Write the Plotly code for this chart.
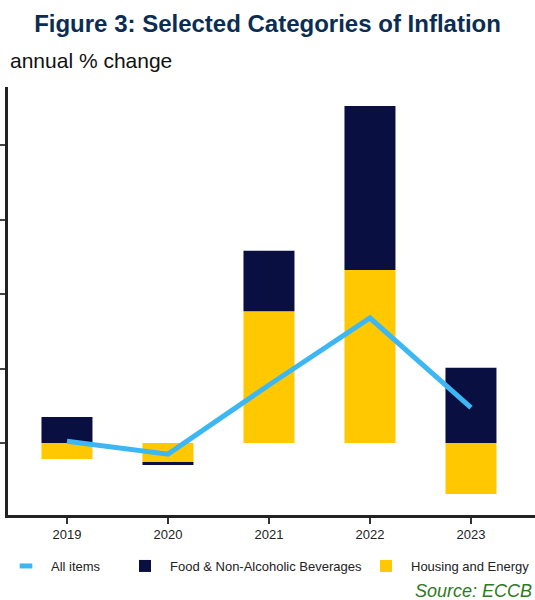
import plotly.graph_objects as go

years = ["2019", "2020", "2021", "2022", "2023"]
all_items = [0.05, -0.30, 1.56, 3.36, 0.95]
food = [0.70, -0.08, 1.63, 4.41, 2.02]
housing = [-0.43, -0.51, 3.54, 4.65, -1.37]

NAVY = "#0a0f42"
GOLD = "#ffc800"
SKY = "#3db7f4"
FONT = "Liberation Sans, Arial, sans-serif"

fig = go.Figure()
fig.add_trace(go.Bar(x=years, y=housing, name="Housing and Energy",
                     marker=dict(color=GOLD, line=dict(width=0)),
                     legend="legend3"))
fig.add_trace(go.Bar(x=years, y=food, name="Food & Non-Alcoholic Beverages",
                     marker=dict(color=NAVY, line=dict(width=0)),
                     legend="legend2"))
fig.add_trace(go.Scatter(x=years, y=all_items, name="All items", mode="lines",
                         line=dict(color=SKY, width=5), showlegend=False))
# legend key for the headline series
fig.add_trace(go.Scatter(x=[None], y=[None], name="All items", mode="markers",
                         marker=dict(color=SKY, symbol="line-ew", size=9,
                                     line=dict(color=SKY, width=6)),
                         legend="legend"))

# legends sit in the bottom band of the page (container coordinates vertically)
legend_common = dict(orientation="h", xanchor="left", yref="container",
                     y=1 - 566 / 600, yanchor="middle",
                     font=dict(size=13, color="#222"), itemwidth=40,
                     bgcolor="rgba(0,0,0,0)")
PLOT_W = 527.0

fig.update_layout(
    width=535, height=600,
    margin=dict(l=8, r=0, t=87, b=85),
    paper_bgcolor="white", plot_bgcolor="white",
    barmode="relative", bargap=0.495,
    font=dict(family=FONT, color="#222"),
    title=dict(text="<b>Figure 3: Selected Categories of Inflation</b>",
               x=0.5, xanchor="center", y=0.96, yanchor="middle",
               font=dict(size=24, color="#0b2d52", family=FONT)),
    legend=dict(legend_common, x=(1 - 8) / PLOT_W),
    legend2=dict(legend_common, x=(120 - 8) / PLOT_W),
    legend3=dict(legend_common, x=(369 - 8) / PLOT_W),
    showlegend=True,
)
fig.update_xaxes(range=[-0.584, 4.634], showline=True, linecolor="#222", linewidth=2.5,
                 ticks="outside", ticklen=6, tickwidth=2, tickcolor="#333",
                 tickfont=dict(size=13, color="#222"), showgrid=False, zeroline=False)
fig.update_yaxes(range=[-1.935, 9.57], dtick=2, tick0=0, showline=True, linecolor="#222",
                 linewidth=2.5, ticks="outside", ticklen=8, tickwidth=2, tickcolor="#444",
                 showticklabels=False, showgrid=False, zeroline=False)

fig.add_annotation(text="annual % change", xref="paper", yref="paper",
                   x=0, xanchor="left", y=1.0, yanchor="bottom", yshift=13,
                   showarrow=False, font=dict(size=21, color="#111", family=FONT))
fig.add_annotation(text="<i>Source: ECCB</i>", xref="paper", yref="paper",
                   x=1.0, xanchor="right", xshift=-1, y=0, yanchor="middle", yshift=-76,
                   showarrow=False, font=dict(size=18, color="#2e7a1e", family=FONT))

fig.write_html("out.html")
